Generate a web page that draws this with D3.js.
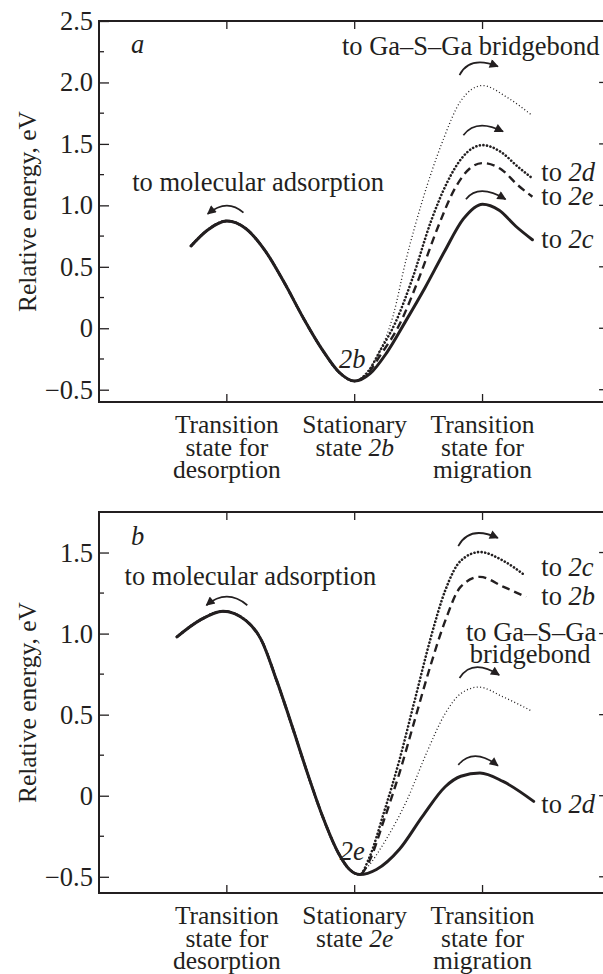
<!DOCTYPE html>
<html><head><meta charset="utf-8">
<script src="https://cdn.jsdelivr.net/npm/d3@7"></script>
<style>
body{margin:0;background:#fff;}
</style></head><body>
<svg id="chart" width="603" height="974"></svg>
<script>
// ---------- data ----------
const xTickPositions = [1, 2, 3];
const xTickLabelsA = [["Transition","state for","desorption"],["Stationary","state *2b*"],["Transition","state for","migration"]];
const xTickLabelsB = [["Transition","state for","desorption"],["Stationary","state *2e*"],["Transition","state for","migration"]];
const yTicksA = [-0.5, 0, 0.5, 1.0, 1.5, 2.0, 2.5];
const yTicksB = [-0.5, 0, 0.5, 1.0, 1.5];

// panel a: shared path (desorption side) and migration branches  [position, energy eV]
const aShared = [[0.72,0.67],[0.85,0.80],[1.0,0.873],[1.15,0.81],[1.3,0.63],[1.45,0.37],[1.6,0.08],[1.75,-0.18],[1.88,-0.36],[2.0,-0.43]];
const aTo2c   = [[2.12,-0.37],[2.25,-0.2],[2.4,0.06],[2.55,0.33],[2.7,0.62],[2.85,0.89],[3.0,1.01],[3.13,0.96],[3.26,0.83],[3.39,0.72]];
const aTo2e   = [[2.1,-0.37],[2.2,-0.22],[2.35,0.03],[2.5,0.4],[2.65,0.82],[2.78,1.13],[2.9,1.3],[3.0,1.344],[3.15,1.29],[3.27,1.17],[3.39,1.07]];
const aTo2d   = [[2.1,-0.36],[2.2,-0.18],[2.32,0.05],[2.45,0.4],[2.6,0.88],[2.72,1.18],[2.85,1.4],[3.0,1.49],[3.15,1.43],[3.27,1.32],[3.39,1.22]];
const aToGa   = [[2.1,-0.35],[2.2,-0.18],[2.3,0.1],[2.4,0.55],[2.53,1.04],[2.68,1.5],[2.83,1.85],[3.0,1.975],[3.19,1.88],[3.39,1.73]];

// panel b
const bShared = [[0.61,0.98],[0.79,1.083],[0.97,1.138],[1.15,1.08],[1.27,0.96],[1.39,0.71],[1.51,0.43],[1.63,0.14],[1.75,-0.13],[1.87,-0.35],[1.96,-0.455],[2.04,-0.486]];
const bTo2d   = [[2.17,-0.455],[2.35,-0.33],[2.53,-0.127],[2.71,0.057],[2.83,0.12],[2.98,0.14],[3.16,0.088],[3.40,-0.035]];
const bToGa   = [[2.1,-0.44],[2.23,-0.29],[2.41,-0.025],[2.56,0.26],[2.71,0.51],[2.83,0.63],[2.97,0.67],[3.16,0.61],[3.39,0.52]];
const bTo2b   = [[2.11,-0.41],[2.23,-0.148],[2.35,0.14],[2.47,0.468],[2.59,0.795],[2.71,1.083],[2.83,1.29],[2.98,1.35],[3.16,1.29],[3.34,1.226]];
const bTo2c   = [[2.11,-0.39],[2.23,-0.10],[2.35,0.22],[2.47,0.59],[2.59,0.96],[2.71,1.27],[2.83,1.45],[2.98,1.503],[3.16,1.45],[3.33,1.36]];

// arrows [start, control, end] in data units
const aArrows = [[[1.13,0.94],[1.0,1.06],[0.85,0.93]],[[2.82,2.06],[2.9,2.22],[3.12,2.13]],[[2.85,1.57],[2.95,1.71],[3.16,1.60]],[[2.87,1.05],[2.97,1.18],[3.18,1.05]]];
const bArrows = [[[1.16,1.175],[1.0,1.28],[0.84,1.175]],[[2.81,1.54],[2.9,1.67],[3.12,1.59]],[[2.82,0.726],[2.92,0.85],[3.13,0.745]],[[2.81,0.19],[2.93,0.30],[3.12,0.185]]];

// annotations: text, position, energy, anchor
const aLabels = [["*a*",0.25,2.24,"start"],["to Ga–S–Ga bridgebond",1.9,2.225,"start"],["to molecular adsorption",0.26,1.12,"start"],["to *2d*",3.46,1.195,"start"],["to *2e*",3.46,1.0,"start"],["to *2c*",3.46,0.65,"start"],["*2b*",1.98,-0.32,"middle"]];
const bLabels = [["*b*",0.25,1.545,"start"],["to molecular adsorption",0.2,1.30,"start"],["to *2c*",3.46,1.354,"start"],["to *2b*",3.46,1.175,"start"],["to Ga–S–Ga",2.87,0.954,"start"],["bridgebond",2.9,0.818,"start"],["to *2d*",3.46,-0.105,"start"],["*2e*",1.98,-0.394,"middle"]];

// ---------- drawing ----------
const INK = "#231f20";
const FONT = "Liberation Serif";
const svg = d3.select("#chart");
const defs = svg.append("defs");
defs.append("marker").attr("id","ah").attr("viewBox","0 0 10 10").attr("refX",9).attr("refY",5)
  .attr("markerWidth",12).attr("markerHeight",9).attr("markerUnits","userSpaceOnUse").attr("orient","auto")
  .append("path").attr("d","M0,0 L10,5 L0,10 Z").attr("fill",INK);

const styles = {
  solid: {w:3.0, dash:null, cap:"round"},
  dashed:{w:2.4, dash:"8,5", cap:"butt"},
  dotted:{w:2.6, dash:"0.1,3.5", cap:"round"},
  sparse:{w:1.3, dash:"1,2.4", cap:"butt"}
};

function richText(sel, str){
  const parts = str.split("*");
  parts.forEach((p,i)=>{ if(p.length) sel.append("tspan").style("font-style", i%2 ? "italic" : "normal").text(p); });
}
function txt(g, size){
  return g.append("text").style("font-family",FONT).style("font-size",size+"px").attr("fill",INK);
}

function panel(cfg){
  const x = d3.scaleLinear().domain([0,3.95]).range([99,604]);
  const y = d3.scaleLinear().domain(cfg.ydom).range([cfg.bottom, cfg.top]);
  const g = svg.append("g");
  const xr = x(3.99);
  g.append("rect").attr("x",x(0)).attr("y",cfg.top).attr("width",xr-x(0)).attr("height",cfg.bottom-cfg.top)
    .attr("fill","none").attr("stroke",INK).attr("stroke-width",2);
  const fmt = d => d===0 ? "0" : (d<0?"\u2212":"") + Math.abs(d).toFixed(1);
  const minor = d3.range(Math.ceil(cfg.ydom[0]*4)/4, cfg.ydom[1]+0.001, 0.25).filter(v=>Math.abs(v*2-Math.round(v*2))>0.01);
  const yl = g.append("g").attr("transform",`translate(${x(0)},0)`)
    .call(d3.axisLeft(y).tickValues(cfg.yticks).tickFormat(fmt).tickSizeInner(-10).tickSizeOuter(0).tickPadding(6));
  yl.attr("font-family",null).attr("font-size",null);
  yl.select(".domain").remove();
  yl.selectAll("text").style("font-size","26.5px").style("font-family",FONT).attr("fill",INK);
  yl.selectAll("line").attr("stroke",INK).attr("stroke-width",1.3);
  minor.forEach(v=>{
    g.append("line").attr("x1",x(0)).attr("x2",x(0)+5).attr("y1",y(v)).attr("y2",y(v)).attr("stroke",INK).attr("stroke-width",1.3);
  });
  cfg.yticks.forEach(v=>g.append("line").attr("x1",xr).attr("x2",xr-10).attr("y1",y(v)).attr("y2",y(v)).attr("stroke",INK).attr("stroke-width",1.3));
  minor.forEach(v=>g.append("line").attr("x1",xr).attr("x2",xr-5).attr("y1",y(v)).attr("y2",y(v)).attr("stroke",INK).attr("stroke-width",1.3));
  xTickPositions.forEach(p=>{
    g.append("line").attr("x1",x(p)).attr("x2",x(p)).attr("y1",cfg.bottom).attr("y2",cfg.bottom-8).attr("stroke",INK).attr("stroke-width",1.3);
    g.append("line").attr("x1",x(p)).attr("x2",x(p)).attr("y1",cfg.top).attr("y2",cfg.top+8).attr("stroke",INK).attr("stroke-width",1.3);
  });
  cfg.xlabels.forEach((lines,i)=>{
    lines.forEach((ln,j)=>{
      const t = txt(g, 25.5).attr("x",x(xTickPositions[i])).attr("y",cfg.bottom+31+j*22.5).attr("text-anchor","middle");
      richText(t, ln);
    });
  });
  txt(g, 25.5).attr("transform",`translate(36,${(cfg.top+cfg.bottom)/2}) rotate(-90)`)
    .attr("text-anchor","middle").text("Relative energy, eV");
  const line = d3.line().x(d=>x(d[0])).y(d=>y(d[1])).curve(d3.curveMonotoneX);
  cfg.series.forEach(s=>{
    const st = styles[s.style];
    g.append("path").attr("d", line(s.data)).attr("fill","none").attr("stroke",INK)
      .attr("stroke-width",st.w).attr("stroke-dasharray",st.dash).attr("stroke-linecap",st.cap).attr("stroke-linejoin","round");
  });
  cfg.arrows.forEach(a=>{
    const p = d3.path();
    p.moveTo(x(a[0][0]),y(a[0][1]));
    p.quadraticCurveTo(x(a[1][0]),y(a[1][1]),x(a[2][0]),y(a[2][1]));
    g.append("path").attr("d",p.toString()).attr("fill","none").attr("stroke",INK).attr("stroke-width",1.7).attr("marker-end","url(#ah)");
  });
  cfg.labels.forEach(l=>{
    const t = txt(g, 26.5).attr("x",x(l[1])).attr("y",y(l[2])).attr("text-anchor",l[3]);
    richText(t,l[0]);
  });
}

panel({top:21, bottom:402, ydom:[-0.6,2.5], yticks:yTicksA, xlabels:xTickLabelsA,
  series:[{data:aShared.concat(aToGa),style:"sparse"},{data:aShared.concat(aTo2d),style:"dotted"},{data:aShared.concat(aTo2e),style:"dashed"},{data:aShared.concat(aTo2c),style:"solid"}],
  arrows:aArrows, labels:aLabels});
panel({top:512, bottom:893, ydom:[-0.6,1.75], yticks:yTicksB, xlabels:xTickLabelsB,
  series:[{data:bShared.concat(bToGa),style:"sparse"},{data:bShared.concat(bTo2c),style:"dotted"},{data:bShared.concat(bTo2b),style:"dashed"},{data:bShared.concat(bTo2d),style:"solid"}],
  arrows:bArrows, labels:bLabels});
</script>
</body></html>
